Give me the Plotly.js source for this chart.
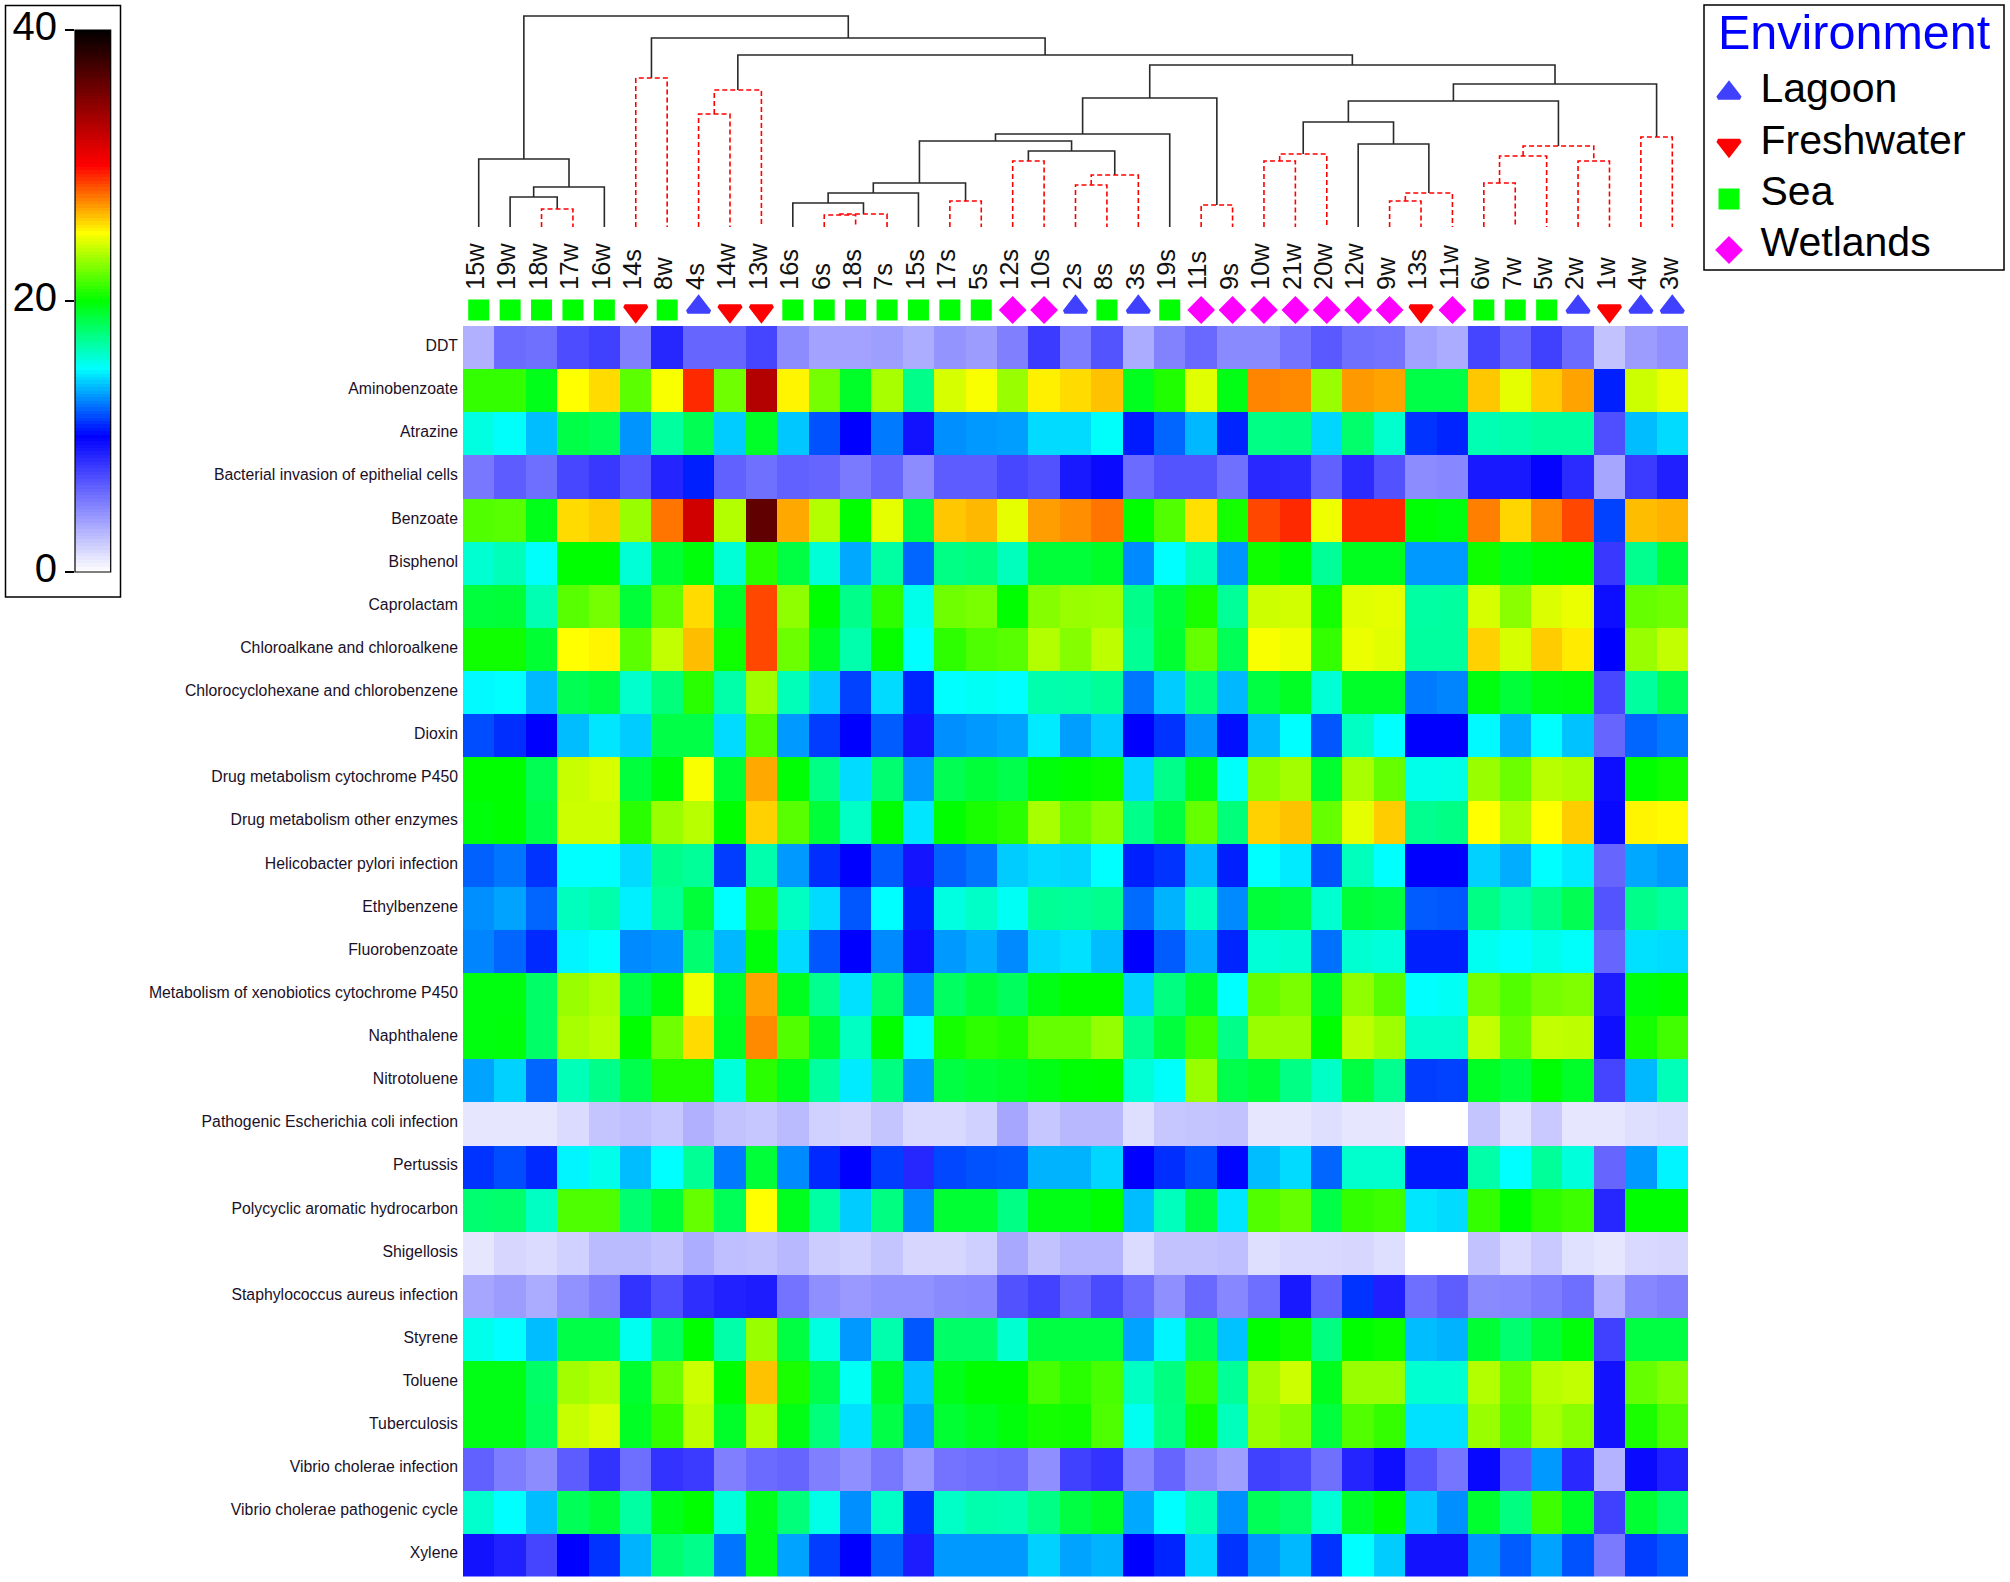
<!DOCTYPE html>
<html>
<head>
<meta charset="utf-8">
<script src="https://cdn.plot.ly/plotly-3.0.1.min.js"></script>
<style>html,body{margin:0;padding:0;background:#fff}#chart{width:2010px;height:1582px}</style>
</head>
<body>
<div id="chart"></div>
<script>
const samples = ["15w","19w","18w","17w","16w","14s","8w","4s","14w","13w","16s","6s","18s","7s","15s","17s","5s","12s","10s","2s","8s","3s","19s","11s","9s","10w","21w","20w","12w","9w","13s","11w","6w","7w","5w","2w","1w","4w","3w"];
const environments = ["Sea","Sea","Sea","Sea","Sea","Freshwater","Sea","Lagoon","Freshwater","Freshwater","Sea","Sea","Sea","Sea","Sea","Sea","Sea","Wetlands","Wetlands","Lagoon","Sea","Lagoon","Sea","Wetlands","Wetlands","Wetlands","Wetlands","Wetlands","Wetlands","Wetlands","Freshwater","Wetlands","Sea","Sea","Sea","Lagoon","Freshwater","Lagoon","Lagoon"];
const pathways = ["DDT","Aminobenzoate","Atrazine","Bacterial invasion of epithelial cells","Benzoate","Bisphenol","Caprolactam","Chloroalkane and chloroalkene","Chlorocyclohexane and chlorobenzene","Dioxin","Drug metabolism cytochrome P450","Drug metabolism other enzymes","Helicobacter pylori infection","Ethylbenzene","Fluorobenzoate","Metabolism of xenobiotics cytochrome P450","Naphthalene","Nitrotoluene","Pathogenic Escherichia coli infection","Pertussis","Polycyclic aromatic hydrocarbon","Shigellosis","Staphylococcus aureus infection","Styrene","Toluene","Tuberculosis","Vibrio cholerae infection","Vibrio cholerae pathogenic cycle","Xylene"];
const abundance = [
[3.1,5.8,5.6,7,7.5,5,8.5,6,6,7.3,4.5,3.6,3.6, 3.8,3.2,4.2,3.9,5,7.7,5.1,6.7,3.3,4.9,5.9,4.6,4.6, 5.5,6.5,5.6,5.5,3.7,3.3,7.3,6,7.5,5.8,2.4,3.9,4.4],
[21,21,19.5,25,25.7,21.8,24.9,29.2,22.2,33,25.2,22.3,19.2, 23.3,17.3,24.2,24.9,23,25.3,25.7,26.2,19.4,20.6,24.4,19.6,27.4, 27.3,23,27,26.8,18.6,18.6,26.1,24.5,26,26.8,10.6,24,24.6],
[15.6,15.1,13.7,18.6,18.3,12.9,16.9,18.4,14,19.2,13.9,11.6,10, 12.4,9.3,12.8,13,13.1,14.3,14.3,15.1,10.5,12,13.6,10.7,17.4, 17.5,14.2,17.9,16,11,10.7,16.5,16.6,16.9,16.9,6.9,13.7,14.3],
[5.3,6.4,5.7,7.2,7.8,6.6,8.6,10.6,6.2,5.6,6.2,6,5.2, 6,4.5,6.4,6.4,7.2,6.8,9,9.6,5.8,6.7,6.7,5.6,8.4, 8.3,6.2,8.3,6.8,4.5,4.7,9,9,9.8,8.3,3.5,7.7,8.8],
[21.6,21.7,19.5,25.7,26,23,27.7,31.8,23.5,36.2,26.7,23.5,20, 24.5,18.7,26.1,26.4,24.5,26.9,27.2,27.7,20,21.6,25.6,20.4,28.6, 29.2,24.7,29.2,29.2,19.9,19.7,27.5,25.8,27.3,28.6,11.3,26.3,26.5],
[15.9,16.4,15.1,20,20,15.8,19,19.8,15.8,20.8,18.7,15.8,13.3, 16.8,12,17.4,17.6,16.3,18.9,18.9,19.2,12.7,15,16.3,12.9,20.3, 19.9,17,19.4,19.4,13,13,20.3,19.5,19.9,20,7.8,17.2,18.9],
[18.8,18.9,16.5,21.7,22.3,18.9,21.9,25.7,19.2,28.6,22.8,20,17.3, 20.9,15.4,22.2,22.4,20,22.6,23,23.1,17.3,18.9,20.5,17,24, 24.1,20.4,24.4,24.5,16.8,16.9,24.2,22.7,24.3,24.6,9.5,22,22.2],
[20.3,20.3,19,25,25.2,21.8,23.8,26.3,20.3,28.6,22.1,19.3,16.6, 20.1,15,20.9,21.5,21.7,23.5,22.6,23.7,17.1,19,22,18.3,24.9, 24.7,21,24.6,24.4,16.9,16.9,25.9,24.2,26,25.4,10,23,23.8],
[14.9,15,13.6,18.4,18.7,16,17.6,20.8,16.7,23.1,16.4,13.9,11.3, 14.3,10.7,15,15.2,15,16.6,16.7,17,12.3,14,17.6,13.6,18.7, 19.3,15.8,19.2,19.2,12.4,12.6,19.7,18.9,19.6,19.7,7.2,16.9,18.3],
[11.5,10.9,10,13.7,14.5,14,18.6,18.6,14.3,21.5,13,11.2,10, 11.8,9.3,12.8,13,13.2,14.6,13.1,14,10,11,12.9,10.3,13.6, 15,11.7,16.2,15,10,10,14.9,13.4,15,13.8,6,12,12.4],
[20,20,18.4,23.9,24.2,18.8,19.8,24.9,19,26.7,19.9,17.4,14.3, 17.8,13,18.4,18.9,18.5,19.8,20,20.2,14.2,17.3,19.4,15.1,22.7, 23.2,19.1,23.3,22,15.4,15.5,23,22.1,23.6,23.4,9.5,20,20.3],
[19.8,20,18.6,24,24,20.8,23,23.6,20,25.9,21.7,18.9,16.1, 19.9,14.5,20,20.5,20.8,23.3,22,22.7,17.3,18.7,22,17.6,25.9, 26.2,22,24.5,26,17.2,17.4,25,23.4,25,26,9.7,25.2,25.1],
[11.9,12.3,11,15,15,14.3,17.3,17,11.2,16.6,13,10.9,10, 11.8,9.2,11.9,12.3,14,14.3,14.2,15,10.6,11,13.6,10.6,15, 14.6,11.6,16.3,15,10,10,14.1,13.4,15,14.6,6,13.3,13],
[12.8,13.2,12,16.3,16.6,14.7,17,18.9,15,20.9,16.2,14.3,11.7, 15,10.6,15.6,16.1,15.2,17.1,17,17.2,12.1,13.5,16.2,12.7,18.9, 18.7,15.9,18.9,18.7,11.8,11.7,17.4,16.6,17.4,18.4,6.7,17.3,16.9],
[12.6,12,10.8,14.8,15,12.7,12.9,17.8,13.6,19.8,14.3,11.7,10, 12.7,9.5,13,13.4,12.7,14.2,14.4,13.7,10,11.8,13.4,10.7,15.8, 15.9,12.2,15.9,15.7,10.6,10.6,15.3,15,15.4,15.1,6,14.4,14.3],
[19.7,19.7,18,23,23.4,18.6,19.7,24.7,19.2,26.8,19.4,17.2,14.4, 17.9,12.8,18.1,18.8,18.2,19.6,20,20,14.1,17.5,19,15,22, 22.4,19.2,22.8,21.7,15,15.2,22.3,21.6,22.3,22.5,8.9,19.8,20],
[19.7,19.8,18,23.3,23.6,20,22.2,25.7,19.4,27.3,21.6,19.1,16.2, 20,14.9,20.4,20.9,20.6,22,22,22.9,17.2,18.8,21.3,17.3,23, 23,20,23.7,23.1,16,16,23.8,22,23.8,23.7,9.4,20.4,21.3],
[13.2,14.1,12,16.4,17.3,18.5,20.6,20.6,15.7,20.8,19.4,16.9,14.6, 17.5,13,18.7,19,19.2,19.6,19.9,20,15.8,15.1,23,18.5,18.9, 17.4,16.1,18.7,17.2,11.2,11.3,19.3,18.8,19.9,19.2,7.3,13.6,16.4],
[1,1,1,1.4,2.3,2.5,2.2,3.1,2.4,2.2,2.7,1.8,1.7, 2.3,1.5,1.5,1.8,3.5,2.2,2.8,2.8,1.3,2.2,2.3,2.4,1, 1,1.3,1,1,0,0,2.3,1.2,2.1,1,1,1.3,1.4],
[11,11.5,10.8,14.8,15.4,13.7,15,17.1,12.4,18.9,12.7,10.8,10, 11.2,8.5,11.4,11.6,11.7,13.5,13.5,14.2,10,10.9,11.5,10.1,13.7, 14.3,12,16,16,10.5,10.5,16.7,15,17,15.7,6,13,14.8],
[17.8,17.9,16.2,21.5,21.5,17.8,18.9,22,18.3,25,19.4,16.8,14, 17.5,12.7,19,19,17.4,19.6,19.6,20,13.7,16.3,18.7,14.5,21.6, 22,18.6,21,21.2,14.5,14.3,21,20,20.9,21.2,8.5,20,20],
[1,1.6,1.4,1.8,2.7,2.7,2.4,3.2,2.5,2.4,2.8,2,1.8, 2.3,1.6,1.6,1.9,3.4,2.4,2.9,2.9,1.4,2.4,2.4,2.5,1.3, 1.5,1.5,1.6,1.3,0,0,2.4,1.5,2.1,1.2,1,1.5,1.6],
[3.5,3.9,3.3,4.3,5,8,6.9,8.2,8.7,8.9,5.5,4.4,4, 4.3,4.3,4.6,4.7,6.8,7.4,6,7.1,5.8,4.4,5.9,4.7,5.7, 9,6.2,11,8.8,5.7,6.3,4.6,4.7,5.1,5.7,3,4.7,5],
[15.4,15,13.7,18.6,18.6,15.3,18.1,20,16.7,23,18.7,15.6,13, 16.6,11.7,18,18,15.9,18.7,18.7,18.7,13.2,14.8,18.3,13.8,20, 20.3,17.5,20,20.2,13.7,13.5,19,17.8,18.9,19.8,7.5,18.7,18.7],
[19.6,19.6,18,23.2,23.5,19.1,22.1,24,20,26.2,20.5,18.5,15.2, 19.2,13.8,19.5,20,20,21.4,20.8,21.4,16.2,17.5,21.2,17,23.2, 24,19.4,23,23,15.9,15.9,23.5,22.1,23.6,23.8,9.3,22,22.5],
[19.6,19.6,18.1,23.9,24.3,19.3,21,23.7,19.2,23.5,19.6,17.6,14.4, 18.6,13.2,19,19.4,19.8,20.4,20.3,21.5,15.3,17.4,20.4,16.3,23, 22.6,18.8,21.6,21,14.4,14.4,23,21.8,23.3,22.7,9.3,20.5,21.5],
[6.2,5.1,4.5,6.4,8,5.7,8,7.7,5,5.8,6,5,4.4, 5.3,4,5.5,5.7,5.8,4.4,7.5,8,4.7,6,4.5,3.8,7.5, 7.2,5.6,8.6,9.4,6.6,5.4,9.7,6.6,13,8.4,3,9.6,8.7],
[16,15,13.7,18.3,18.9,16.8,19.5,20,15.7,19.5,17.6,15.5,12.8, 16.1,11,16.1,16.6,16.5,17.4,18.7,19.2,13.3,15,16.4,12.8,18.3, 17.9,15.8,19.2,20,13.9,12.8,19.1,17.5,21.2,19.2,7.5,19,17.9],
[9.3,8.7,7.3,10,11,13.5,17.8,17.3,12.3,19.5,13.2,11.2,10, 11.9,8.9,13,13,13,14.1,13.2,13.5,10,10.7,14.2,11,12.9, 13.6,11,15,14,9.3,9.3,12.9,11.8,13.2,11.6,5.2,11.2,11.7]
];
// dendrogram: [left, right, height, dashed]; ids below 39 are samples, 39+k is the node made by merge k
const merges = [
[2,3,18,1],[1,39,30,0],[40,4,40,0],[0,41,68,0],
[5,6,149,1],
[7,8,113,1],[44,9,137,1],
[11,12,12,1],[46,13,13,1],[10,47,24,0],[48,14,34,0],
[15,16,26,1],[49,50,44,0],
[17,18,66,1],[19,20,42,1],[53,21,52,1],[52,54,76,0],
[51,55,86,0],[56,22,93,0],
[23,24,22,1],[57,58,129,0],
[25,26,66,1],[60,27,73,1],
[29,30,26,1],[62,31,34,1],[28,63,83,0],[61,64,105,0],
[32,33,44,1],[66,34,71,1],[35,36,66,1],[67,68,81,1],[65,69,126,0],
[37,38,90,1],[70,71,143,0],
[59,72,162,0],[45,73,172,0],[43,74,189,0],[42,75,211,0]
];
const legendOrder = ["Lagoon","Freshwater","Sea","Wetlands"];
const legendSymbols = ["triangle-up","triangle-down","square","diamond"];
const legendColors = ["#4040ff","#ff0000","#00ff00","#ff00ff"];
const markerSizes = [19,19,17,17];
const markerRowY = [0.6,0.47,0.5,0.5];
const legendMarkerY = [88,140.5,194,245];
const legendTextY = [87,139,190,241];
const scaleTicks = [0,20,40];

const W = 2010, H = 1582;
const px = v => v / W, py = v => 1 - v / H;
const FONT = "Liberation Sans, Arial, sans-serif";
const colorscale = [[0,"#ffffff"],[0.25,"#0000ff"],[0.375,"#00ffff"],[0.5,"#00ff00"],[0.625,"#ffff00"],[0.75,"#ff0000"],[1,"#000000"]];

// dendrogram segments
const nodeX = samples.map((_, i) => i), nodeH = samples.map(() => 0);
const seg = {0:{x:[],y:[]},1:{x:[],y:[]}};
merges.forEach(([a,b,h,d]) => {
  seg[d].x.push(nodeX[a],nodeX[a],nodeX[b],nodeX[b],null);
  seg[d].y.push(nodeH[a],h,h,nodeH[b],null);
  nodeX.push((nodeX[a]+nodeX[b])/2); nodeH.push(h);
});

const ramp = [];
for (let v = 0; v <= 40; v += 0.25) ramp.push(v);

const traces = [
  {type:"heatmap",x:samples.map((_,i)=>i),y:pathways.map((_,i)=>i),z:abundance,zmin:0,zmax:40,colorscale,showscale:false,xaxis:"x",yaxis:"y",hoverinfo:"z"},
  {type:"scatter",mode:"lines",x:seg[0].x,y:seg[0].y,xaxis:"x",yaxis:"y2",line:{color:"#2a2a2a",width:1.6},showlegend:false,hoverinfo:"skip",cliponaxis:false},
  {type:"scatter",mode:"lines",x:seg[1].x,y:seg[1].y,xaxis:"x",yaxis:"y2",line:{color:"#ff0000",width:1.6,dash:"5px,3px"},showlegend:false,hoverinfo:"skip",cliponaxis:false},
  {type:"heatmap",x:[0],y:ramp,z:ramp.map(v=>[v]),zmin:0,zmax:40,colorscale,showscale:false,xaxis:"x3",yaxis:"y4",hoverinfo:"skip"}
];
legendOrder.forEach((env,k)=>{
  const idx = samples.map((_,i)=>i).filter(i=>environments[i]===env);
  const marker = {symbol:legendSymbols[k],color:legendColors[k],size:markerSizes[k],line:{color:legendColors[k],width:4}};
  traces.push({type:"scatter",mode:"markers",name:env,x:idx,y:idx.map(()=>markerRowY[k]),xaxis:"x",yaxis:"y3",cliponaxis:false,showlegend:false,marker});
  traces.push({type:"scatter",mode:"markers",name:env,x:[25],y:[legendMarkerY[k]],xaxis:"x5",yaxis:"y5",cliponaxis:false,showlegend:false,hoverinfo:"skip",marker});
});
traces.push({type:"scatter",mode:"text",x:legendOrder.map(()=>56.5),y:legendTextY,text:legendOrder,textposition:"middle right",
  textfont:{size:41,color:"#000",family:FONT},xaxis:"x5",yaxis:"y5",cliponaxis:false,showlegend:false,hoverinfo:"skip"});

const layout = {
  width:W,height:H,margin:{l:0,r:0,t:0,b:0},paper_bgcolor:"#fff",plot_bgcolor:"rgba(0,0,0,0)",showlegend:false,
  font:{family:FONT,color:"#000"},
  xaxis:{domain:[px(463),px(1688)],range:[-0.5,38.5],anchor:"free",position:py(290),side:"top",tickmode:"array",
    tickvals:samples.map((_,i)=>i),ticktext:samples,tickangle:-90,ticks:"",showgrid:false,zeroline:false,showline:false,
    tickfont:{size:25.5,color:"#111",family:FONT},ticklabelshift:-3},
  yaxis:{domain:[py(1576.5),py(326)],range:[28.5,-0.5],anchor:"x",tickmode:"array",tickvals:pathways.map((_,i)=>i),ticktext:pathways,
    ticks:"",showgrid:false,zeroline:false,showline:false,tickfont:{size:15.8,color:"#1a1028",family:FONT},ticklabelstandoff:4,ticklabelshift:2},
  yaxis2:{domain:[py(227),py(0)],range:[0,227],anchor:"x",visible:false},
  yaxis3:{domain:[py(325),py(295)],range:[0,1],anchor:"x",visible:false},
  xaxis3:{domain:[px(75),px(110.7)],range:[-0.5,0.5],anchor:"y4",visible:false},
  yaxis4:{domain:[py(572),py(30)],range:[0,40],anchor:"x3",tickmode:"array",tickvals:scaleTicks,ticks:"outside",ticklen:9,tickwidth:1.2,tickcolor:"#000",
    showgrid:false,zeroline:false,showline:false,tickfont:{size:40,color:"#000",family:FONT},ticklabelstandoff:0,ticklabelshift:-4},
  xaxis5:{domain:[px(1704),px(2004)],range:[0,300],anchor:"y5",visible:false},
  yaxis5:{domain:[py(270),py(5)],range:[265,0],anchor:"x5",visible:false},
  annotations:[{xref:"paper",yref:"paper",x:px(1716),y:py(32),xanchor:"left",yanchor:"middle",showarrow:false,text:"Environment",
    font:{size:48.5,color:"#0000ff",family:FONT}}],
  shapes:[
    {type:"rect",xref:"paper",yref:"paper",x0:px(5.5),x1:px(120.5),y0:py(597),y1:py(5.5),line:{color:"#000",width:1.5},fillcolor:"rgba(0,0,0,0)"},
    {type:"rect",xref:"paper",yref:"paper",x0:px(75),x1:px(110.7),y0:py(572),y1:py(30),line:{color:"#000",width:1.2},fillcolor:"rgba(0,0,0,0)"},
    {type:"rect",xref:"paper",yref:"paper",x0:px(1704),x1:px(2004),y0:py(270),y1:py(5),line:{color:"#000",width:1.5},fillcolor:"rgba(0,0,0,0)"}
  ]
};
Plotly.newPlot("chart",traces,layout,{displayModeBar:false,staticPlot:true});
</script>
</body>
</html>
